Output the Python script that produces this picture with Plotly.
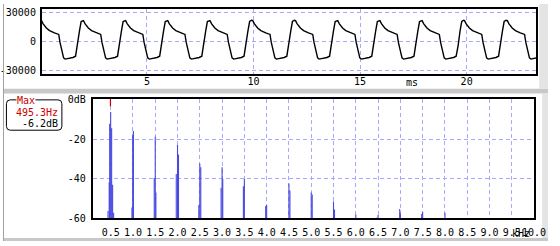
import plotly.graph_objects as go

W, H = 560, 246

# ---------------- data ----------------
# waveform: one cycle (ms offset from the peak, amplitude)
cycle_offset_ms = [0.0, 0.078, 0.228, 0.379, 0.607, 0.808, 0.868, 0.959, 1.037, 1.110,
                   1.292, 1.475, 1.598, 1.690, 1.780, 1.860, 1.950]
cycle_value = [22000, 18600, 14300, 11600, 9300, 7600, -700, -10700, -16700, -18000,
               -17300, -16300, -15000, -4000, 11000, 21000, 22300]
# peak times of each cycle (ms)
peak_times_ms = [0.05, 2.02, 3.997, 5.974, 7.956, 9.965, 11.97, 13.95, 15.93, 17.91, 19.90, 21.91]

wave_yticks = [-30000, 0, 30000]
wave_yticktext = ["-30000", "0", "30000"]
wave_xticks = [5, 10, 15, 20]

# spectrum lines (kHz, dB)
spec_khz = [0.441, 0.467, 0.478, 0.500, 0.522, 0.544, 0.566,
            0.978, 0.995, 1.011,
            1.478, 1.500, 1.515,
            1.972, 2.000, 2.022,
            2.478, 2.500, 2.522,
            2.978, 3.000, 3.015,
            3.478, 3.500,
            3.978, 4.000,
            4.500, 4.522,
            5.000, 5.022,
            5.500, 5.522,
            6.000,
            6.478, 6.500,
            6.985, 7.000,
            7.478, 7.500,
            8.000]
spec_db = [-56.4, -41.8, -12.2, -6.2, -14.5, -43.1, -57.2,
           -54.6, -18.0, -15.9,
           -39.7, -18.8, -47.0,
           -37.6, -22.9, -27.8,
           -53.3, -32.3, -34.2,
           -44.6, -34.2, -40.1,
           -43.8, -40.2,
           -53.9, -53.3,
           -42.4, -46.0,
           -47.0, -48.0,
           -51.5, -55.6,
           -58.2,
           -59.7, -58.4,
           -55.4, -57.7,
           -57.9, -56.9,
           -57.2]
freq_ticks = [0.5, 1.0, 1.5, 2.0, 2.5, 3.0, 3.5, 4.0, 4.5, 5.0,
              5.5, 6.0, 6.5, 7.0, 7.5, 8.0, 8.5, 9.0, 9.5, 10.0]
db_ticks = [0, -20, -40, -60]
db_ticktext = ["0dB", "-20", "-40", "-60"]

max_freq_hz = 495.3
max_db = -6.2

# ---------------- build ----------------
FONT = "DejaVu Sans Mono"
FS = 10
GRID = "#a8a8ff"
BLUE = "#4848e0"
RED = "#cc0000"


def px(x):
    return x / W


def py(y):
    return 1 - y / H


wx, wy = [], []
for pk in peak_times_ms:
    for o, v in zip(cycle_offset_ms, cycle_value):
        wx.append(pk + o)
        wy.append(v)

sx, sy = [], []
for f, d in zip(spec_khz, spec_db):
    sx += [f, f, None]
    sy += [-61, d, None]

fig = go.Figure()
fig.add_trace(go.Scatter(x=wx, y=wy, mode="lines", line=dict(color="black", width=1.4),
                         xaxis="x", yaxis="y", hoverinfo="skip"))
fig.add_trace(go.Scatter(x=sx, y=sy, mode="lines", line=dict(color=BLUE, width=1.1),
                         xaxis="x2", yaxis="y2", hoverinfo="skip"))
fig.add_trace(go.Scatter(x=[max_freq_hz / 1000, max_freq_hz / 1000], y=[0.5, -3.3], mode="lines",
                         line=dict(color=RED, width=1.2), xaxis="x2", yaxis="y2", hoverinfo="skip"))

axis_common = dict(showline=True, linecolor="black", linewidth=2, mirror=True,
                   showgrid=True, gridcolor=GRID, gridwidth=1, griddash="4px,3px",
                   zeroline=False, ticks="", tickangle=0,
                   tickfont=dict(family=FONT, size=FS, color="black"))

fig.update_layout(
    width=W, height=H, margin=dict(l=0, r=0, t=0, b=0),
    paper_bgcolor="white", plot_bgcolor="white", showlegend=False,
    font=dict(family=FONT, size=FS, color="black"),
    xaxis=dict(domain=[px(40), px(548)], range=[0.07, 23.27], tickvals=wave_xticks,
               anchor="y", ticklabelstandoff=-3, **axis_common),
    yaxis=dict(domain=[py(73), py(5)], range=[-33800, 34200], tickvals=wave_yticks,
               ticktext=wave_yticktext, anchor="x", ticklabelstandoff=2, **axis_common),
    xaxis2=dict(domain=[px(92.3), px(545.7)], range=[0.1, 10.0], tickvals=freq_ticks,
                ticktext=["%.1f" % t for t in freq_ticks], anchor="y2", ticklabelstandoff=4,
                **axis_common),
    yaxis2=dict(domain=[py(222.3), py(98.3)], range=[-60, 0.5], tickvals=db_ticks,
                ticktext=db_ticktext, anchor="x2", ticklabelstandoff=3, **axis_common),
)

shapes = [
    # window chrome
    dict(type="rect", xref="paper", yref="paper", x0=px(0), x1=px(560), y0=py(93), y1=py(88),
         fillcolor="#c8c8c8", line=dict(width=0), layer="below"),
    dict(type="rect", xref="paper", yref="paper", x0=px(551), x1=px(560), y0=py(88), y1=py(0),
         fillcolor="#e4e4e4", line=dict(width=0), layer="below"),
    dict(type="rect", xref="paper", yref="paper", x0=px(554), x1=px(560), y0=py(246), y1=py(93),
         fillcolor="#e4e4e4", line=dict(width=0), layer="below"),
    dict(type="rect", xref="paper", yref="paper", x0=px(0), x1=px(560), y0=py(246), y1=py(243),
         fillcolor="#c8c8c8", line=dict(width=0), layer="below"),
    dict(type="line", xref="paper", yref="paper", x0=px(0.5), x1=px(0.5), y0=py(246), y1=py(0),
         line=dict(color="#a0a0a0", width=1)),
]
# rounded group box
x0b, x1b, y0b, y1b, r = 3.5, 60.5, 99.5, 131.0, 4
path = (f"M {px(x0b + r)},{py(y0b)} L {px(x1b - r)},{py(y0b)} "
        f"Q {px(x1b)},{py(y0b)} {px(x1b)},{py(y0b + r)} L {px(x1b)},{py(y1b - r)} "
        f"Q {px(x1b)},{py(y1b)} {px(x1b - r)},{py(y1b)} L {px(x0b + r)},{py(y1b)} "
        f"Q {px(x0b)},{py(y1b)} {px(x0b)},{py(y1b - r)} L {px(x0b)},{py(y0b + r)} "
        f"Q {px(x0b)},{py(y0b)} {px(x0b + r)},{py(y0b)} Z")
shapes.append(dict(type="path", xref="paper", yref="paper", path=path,
                   line=dict(color="black", width=1)))
fig.update_layout(shapes=shapes)

ann_font = dict(family=FONT, size=FS, color="black")
fig.update_layout(annotations=[
    dict(text="ms", x=px(420), y=py(81), xref="paper", yref="paper", showarrow=False,
         xanchor="center", yanchor="middle", font=ann_font),
    dict(text="kHz", x=px(532), y=py(238), xref="paper", yref="paper", showarrow=False,
         xanchor="center", yanchor="middle", font=ann_font),
    dict(text="Max", x=px(24), y=py(100.5), xref="paper", yref="paper", showarrow=False,
         xanchor="center", yanchor="middle", bgcolor="white", borderpad=0,
         font=dict(family=FONT, size=FS, color=RED)),
    dict(text=f"{max_freq_hz:.1f}Hz", x=px(59), y=py(112.5), xref="paper", yref="paper",
         showarrow=False, xanchor="right", yanchor="middle",
         font=dict(family=FONT, size=FS, color=RED)),
    dict(text=f"{max_db:.1f}dB", x=px(59), y=py(124), xref="paper", yref="paper",
         showarrow=False, xanchor="right", yanchor="middle",
         font=dict(family=FONT, size=FS, color="black")),
])

fig.write_html("out.html")
